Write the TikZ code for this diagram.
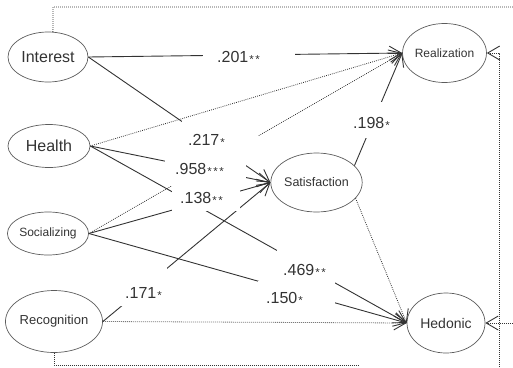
\documentclass[tikz,border=0pt]{standalone}
\usepackage{fontspec}
\setmainfont{Liberation Sans}
\usetikzlibrary{arrows.meta,shapes.geometric,calc}
\newcommand{\onestar}{\raisebox{-1.2pt}{\fontsize{11.5}{11.5}\selectfont *}}
\newcommand{\sA}{\kern1pt\onestar}
\newcommand{\sB}{\kern1pt\onestar\kern1.6pt\onestar}
\newcommand{\sC}{\kern1pt\onestar\kern1.6pt\onestar\kern1.6pt\onestar}
\definecolor{ink}{gray}{0.2}
\tikzset{
  ell/.style={ellipse, draw=ink!80, line width=0.7pt, inner sep=0pt, text=ink},
  link/.style={draw=ink, line width=0.9pt},
  dot/.style={draw=ink, line width=0.8pt, dash pattern=on 0.8pt off 1.2pt},
  tip/.style={-{Straight Barb[length=12pt,width=14pt,line width=0.9pt]}},
  num/.style={font=\fontsize{16}{16}\selectfont, inner sep=0pt, text=ink, anchor=base west},
  mask/.style={fill=white}
}
\begin{document}
\begin{tikzpicture}[x=1pt,y=-1pt]
\useasboundingbox (0,0) rectangle (513,367);
% nodes
\node[ell, minimum width=80pt, minimum height=50pt, font=\fontsize{16}{16}\selectfont] (I) at (48,57) {Interest};
\node[ell, minimum width=82pt, minimum height=43pt, font=\fontsize{16}{16}\selectfont] (H) at (49,146) {Health};
\node[ell, minimum width=80pt, minimum height=43pt, font=\fontsize{12}{12}\selectfont] (So) at (48,233.5) {Socializing};
\node[ell, minimum width=82pt, minimum height=62pt, font=\fontsize{13}{13}\selectfont] (Rc) at (54,321.5) {Recognition};
\node[ell, minimum width=79pt, minimum height=59pt, font=\fontsize{12.5}{12.5}\selectfont] (S) at (316.5,182.5) {Satisfaction};
\node[ell, minimum width=79pt, minimum height=59pt, font=\fontsize{12}{12}\selectfont] (R) at (444.5,53) {Realization};
\node[ell, minimum width=78pt, minimum height=60pt, font=\fontsize{14}{14}\selectfont] (Hd) at (446,323) {Hedonic};
% free ends of the frame lines
\coordinate (tl) at (53,7);
\coordinate (tr) at (513,7);
\coordinate (bl) at (54,365);
\coordinate (br) at (358,365);
\coordinate (rb) at (499,367);
\coordinate (rt) at (499,53);
\coordinate (hr) at (513,323);
% connectors
\draw[link, tip] (I.east) -- (R.west);
\draw[link, tip] (I.east) -- (S.west);
\draw[dot, tip] (H.east) -- (R.west);
\draw[dot, tip] (So.east) -- (R.west);
\draw[link, tip] (H.east) -- (S.west);
\draw[link, tip] (H.east) -- (Hd.west);
\draw[link, tip] (So.east) -- (S.west);
\draw[link, tip] (So.east) -- (Hd.west);
\draw[link, tip] (Rc.east) -- (S.west);
\draw[dot, tip] (Rc.east) -- (Hd.west);
\draw[link, tip] (S.24) -- (R.west);
\draw[dot, tip] (S.-22) -- (Hd.west);
% frame lines
\draw[dot] (I.79) -- (tl) -- (tr);
\draw[dot] (Rc.south) -- (bl) -- (br);
\draw[dot, tip] (rb) -- (rt) -- (R.east);
\draw[dot, tip] (hr) -- (Hd.east);
% label masks
\fill[mask] (203,44) rectangle (295,70);
\fill[mask] (182,121) rectangle (258,152);
\fill[mask] (165,150) rectangle (246,186);
\fill[mask] (172,186) rectangle (240,211);
\fill[mask] (118,266) rectangle (167,306);
\fill[mask] (277,250) rectangle (335,284);
\fill[mask] (258,281) rectangle (335,308);
\fill[mask] (345,102) rectangle (395,138);
% labels
\node[num] (l201) at (217,62) {.201\sB};
\node[num] (l217) at (188,145) {.217\sA};
\node[num] (l958) at (175,174) {.958\sC};
\node[num] (l138) at (180,203) {.138\sB};
\node[num] (l198) at (353,128) {.198\sA};
\node[num] (l171) at (125,298) {.171\sA};
\node[num] (l469) at (283,275) {.469\sB};
\node[num] (l150) at (266,303) {.150\sA};
\end{tikzpicture}
\end{document}
